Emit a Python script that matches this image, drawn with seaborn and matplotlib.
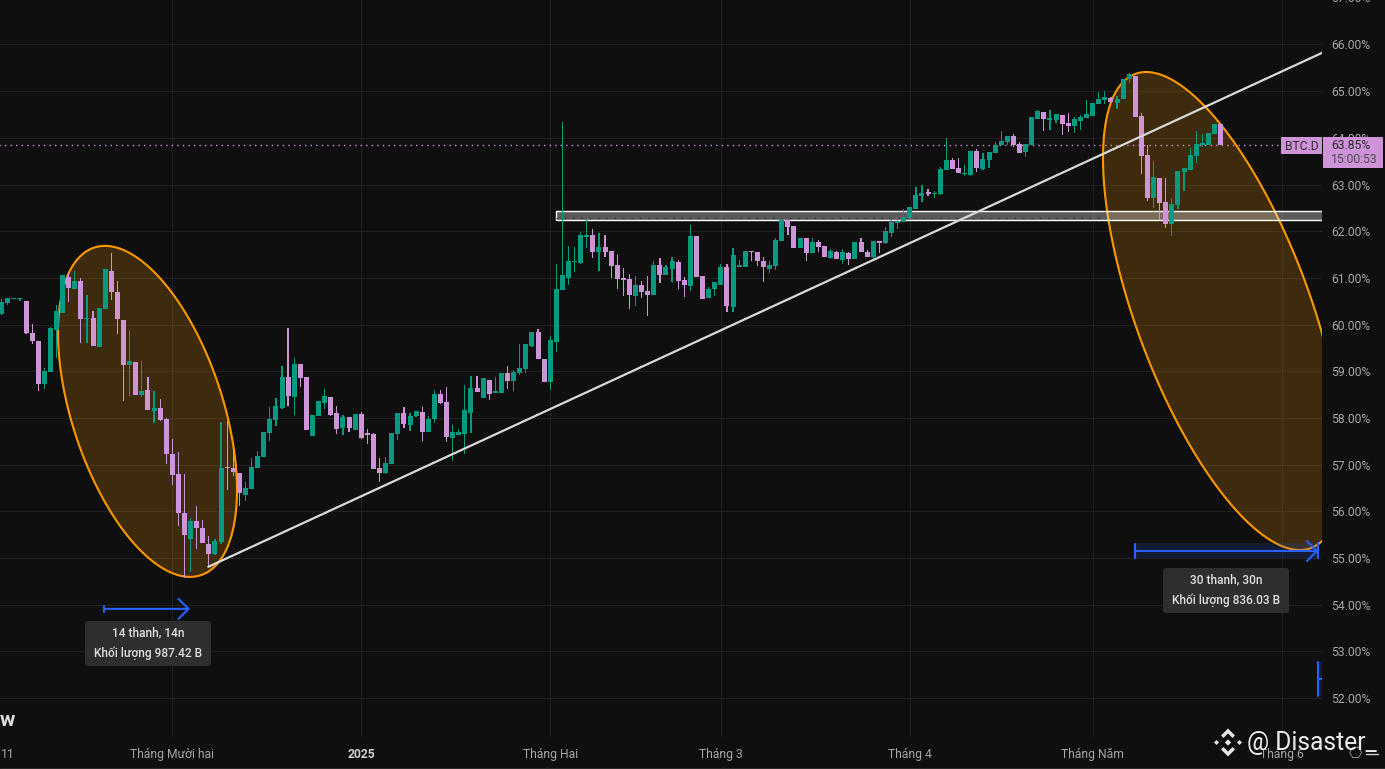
import numpy as np
import pandas as pd
import matplotlib
matplotlib.use("Agg")
import matplotlib.pyplot as plt
import seaborn as sns
from matplotlib.patches import FancyBboxPatch, Polygon, Rectangle
from matplotlib.transforms import Affine2D

# daily BTC.D candles, 3 Nov 2024 to 22 May 2025 (percent)
opens = [
    60.23, 60.46, 60.54, 60.54, 60.51, 59.82, 59.65, 58.73, 58.98, 59.88,
    60.25, 61.02, 60.76, 60.93, 60.12, 60.14, 59.52, 60.33, 61.15, 60.70,
    60.10, 59.13, 59.20, 58.49, 58.60, 58.15, 58.21, 57.98, 57.23, 56.80,
    55.96, 55.41, 55.79, 55.64, 55.30, 55.09, 55.34, 56.95, 56.93, 56.82,
    56.35, 56.47, 56.93, 57.16, 57.68, 57.96, 58.21, 58.88, 58.45, 59.16,
    58.88, 57.61, 58.04, 58.32, 58.45, 58.10, 57.78, 58.02, 57.74, 58.08,
    57.68, 57.66, 56.93, 56.82, 57.01, 57.66, 58.11, 57.85, 58.04, 58.13,
    57.70, 57.98, 58.51, 58.34, 57.57, 57.63, 57.66, 58.11, 58.64, 58.43,
    58.81, 58.53, 58.53, 58.96, 58.79, 58.96, 59.05, 59.54, 59.84, 59.26,
    58.77, 59.63, 60.74, 61.00, 61.33, 61.32, 61.88, 61.92, 61.56, 61.66,
    61.58, 61.28, 61.00, 60.98, 60.61, 60.85, 60.72, 60.63, 61.28, 61.06,
    61.19, 61.34, 60.96, 60.83, 61.90, 61.04, 60.57, 60.76, 60.85, 61.23,
    60.38, 61.23, 61.23, 61.58, 61.55, 61.36, 61.19, 61.25, 61.79, 62.24,
    62.11, 61.64, 61.85, 61.53, 61.77, 61.68, 61.43, 61.55, 61.38, 61.53,
    61.40, 61.77, 61.55, 61.45, 61.78, 61.75, 61.96, 62.18, 62.20, 62.28,
    62.48, 62.75, 62.83, 62.79, 62.80, 63.31, 63.53, 63.35, 63.22, 63.20,
    63.72, 63.33, 63.53, 63.68, 63.85, 63.91, 64.04, 63.87, 63.70, 63.85,
    64.40, 64.55, 64.39, 64.38, 64.49, 64.32, 64.25, 64.36, 64.43, 64.47,
    64.73, 64.81, 64.85, 64.75, 64.83, 65.26, 65.33, 64.47, 63.63, 62.71,
    63.14, 62.63, 62.16, 62.56, 63.27, 63.31, 63.61, 63.84, 63.85, 64.08,
    64.30,
]
closes = [
    60.48, 60.57, 60.57, 60.57, 59.82, 59.65, 58.73, 59.01, 59.93, 60.29,
    61.06, 60.78, 60.93, 60.12, 60.15, 59.54, 60.36, 61.19, 60.70, 60.12,
    59.13, 59.22, 58.49, 58.58, 58.17, 58.21, 57.96, 57.23, 56.78, 55.96,
    55.49, 55.79, 55.64, 55.32, 55.09, 55.36, 56.93, 56.92, 56.84, 56.39,
    56.50, 56.95, 57.18, 57.70, 57.98, 58.26, 58.88, 58.47, 59.16, 58.86,
    57.74, 58.06, 58.36, 58.47, 58.06, 57.76, 58.02, 57.78, 58.08, 57.57,
    57.63, 56.91, 56.82, 57.03, 57.68, 58.11, 57.87, 58.04, 58.15, 57.70,
    57.98, 58.51, 58.32, 57.59, 57.70, 57.70, 58.17, 58.64, 58.56, 58.86,
    58.51, 58.58, 58.96, 58.79, 58.98, 59.07, 59.58, 59.84, 59.26, 58.77,
    59.67, 60.76, 61.06, 61.36, 61.36, 61.92, 61.92, 61.56, 61.66, 61.56,
    61.26, 60.98, 60.96, 60.63, 60.85, 60.70, 60.63, 61.28, 61.06, 61.23,
    61.36, 60.93, 60.85, 61.90, 61.02, 60.55, 60.76, 60.91, 61.23, 60.40,
    61.49, 61.27, 61.58, 61.55, 61.36, 61.23, 61.27, 61.81, 62.24, 62.09,
    61.64, 61.86, 61.53, 61.77, 61.66, 61.45, 61.58, 61.40, 61.55, 61.40,
    61.77, 61.55, 61.45, 61.79, 61.75, 62.00, 62.20, 62.22, 62.30, 62.52,
    62.78, 62.82, 62.80, 62.82, 63.33, 63.52, 63.33, 63.25, 63.25, 63.72,
    63.35, 63.55, 63.70, 63.85, 63.93, 64.04, 63.85, 63.68, 63.87, 64.45,
    64.58, 64.40, 64.43, 64.51, 64.30, 64.25, 64.40, 64.45, 64.51, 64.75,
    64.83, 64.88, 64.77, 64.83, 65.26, 65.37, 64.45, 63.61, 62.71, 63.16,
    62.60, 62.16, 62.58, 63.29, 63.35, 63.63, 63.87, 63.89, 64.10, 64.30,
    63.85,
]
highs = [
    60.54, 60.57, 60.57, 60.57, 60.51, 60.01, 59.65, 59.07, 59.95, 60.42,
    61.06, 61.10, 61.15, 61.00, 60.63, 60.29, 60.36, 61.19, 61.53, 60.93,
    60.10, 59.88, 59.20, 59.22, 58.88, 58.58, 58.41, 58.00, 57.55, 57.27,
    56.80, 55.86, 56.11, 55.81, 55.47, 55.41, 57.91, 57.93, 57.40, 56.82,
    56.63, 57.14, 57.29, 57.70, 58.23, 58.43, 59.11, 59.93, 59.28, 59.16,
    58.88, 58.06, 58.36, 58.62, 58.45, 58.26, 58.06, 58.02, 58.08, 58.13,
    57.76, 57.68, 57.14, 57.16, 57.68, 58.11, 58.23, 58.11, 58.15, 58.23,
    58.04, 58.60, 58.60, 58.66, 57.85, 57.76, 58.71, 58.90, 58.90, 58.86,
    58.81, 58.88, 58.96, 59.11, 59.03, 59.58, 59.58, 59.84, 59.91, 59.26,
    59.75, 61.30, 64.34, 61.68, 61.66, 61.98, 62.24, 62.05, 61.96, 61.92,
    61.58, 61.49, 61.21, 61.08, 61.04, 60.93, 61.04, 61.36, 61.43, 61.28,
    61.45, 61.38, 61.02, 62.13, 61.90, 61.04, 60.80, 60.91, 61.30, 61.30,
    61.64, 61.38, 61.58, 61.58, 61.55, 61.45, 61.36, 61.85, 62.24, 62.24,
    62.11, 61.86, 61.86, 61.85, 61.81, 61.68, 61.62, 61.58, 61.62, 61.55,
    61.77, 61.85, 61.60, 61.79, 61.78, 62.09, 62.24, 62.30, 62.47, 62.52,
    62.95, 62.99, 62.90, 62.86, 63.37, 64.00, 63.57, 63.57, 63.42, 63.72,
    63.76, 63.68, 63.70, 63.91, 64.15, 64.04, 64.08, 63.91, 63.87, 64.45,
    64.60, 64.55, 64.60, 64.51, 64.49, 64.53, 64.45, 64.49, 64.81, 64.75,
    64.98, 65.00, 64.88, 64.90, 65.26, 65.39, 65.33, 64.53, 63.85, 63.50,
    63.14, 63.14, 62.71, 63.29, 63.35, 63.78, 64.15, 64.08, 64.10, 64.30,
    64.30,
]
lows = [
    60.21, 60.42, 60.54, 60.51, 59.80, 59.58, 58.58, 58.62, 58.98, 59.28,
    60.25, 60.48, 60.76, 59.61, 59.61, 59.54, 59.52, 60.33, 60.53, 59.80,
    58.36, 58.47, 58.49, 58.45, 58.17, 57.89, 57.93, 57.01, 56.56, 55.69,
    54.57, 54.70, 55.19, 55.32, 54.81, 55.06, 55.30, 56.46, 56.76, 56.11,
    56.22, 56.47, 56.93, 57.16, 57.51, 57.83, 58.19, 58.26, 58.06, 58.66,
    57.74, 57.61, 58.04, 58.19, 58.04, 57.66, 57.63, 57.70, 57.74, 57.55,
    57.44, 56.91, 56.63, 56.80, 57.01, 57.53, 57.78, 57.72, 58.02, 57.51,
    57.70, 57.89, 58.30, 57.49, 57.08, 57.63, 57.23, 57.68, 58.56, 58.43,
    58.38, 58.53, 58.53, 58.62, 58.58, 58.92, 58.96, 59.52, 59.26, 58.77,
    58.60, 59.41, 60.74, 60.85, 61.13, 61.30, 61.64, 61.43, 61.15, 61.45,
    61.00, 60.76, 60.61, 60.33, 60.40, 60.57, 60.18, 60.63, 60.89, 61.06,
    60.91, 60.76, 60.59, 60.72, 61.02, 60.55, 60.57, 60.61, 60.85, 60.27,
    60.27, 61.23, 61.23, 61.36, 61.25, 60.91, 61.10, 61.17, 61.79, 61.92,
    61.64, 61.64, 61.36, 61.53, 61.55, 61.45, 61.40, 61.40, 61.30, 61.28,
    61.40, 61.55, 61.45, 61.36, 61.53, 61.73, 61.88, 62.05, 62.20, 62.28,
    62.48, 62.63, 62.75, 62.71, 62.78, 63.31, 63.33, 63.25, 63.18, 63.18,
    63.27, 63.31, 63.35, 63.68, 63.85, 63.85, 63.80, 63.68, 63.59, 63.85,
    64.40, 64.15, 64.17, 64.32, 64.06, 64.13, 64.10, 64.17, 64.43, 64.47,
    64.73, 64.73, 64.77, 64.62, 64.83, 65.18, 64.45, 63.23, 62.65, 62.50,
    62.24, 62.07, 61.90, 62.48, 62.86, 63.31, 63.46, 63.80, 63.85, 64.08,
    63.85,
]
first_day = -28  # days from 1 Dec 2024

# chart furniture
y_ticks = list(range(52, 67))
month_days = [0, 31, 62, 90, 121, 151, 182]
month_labels = ["Tháng Mười hai", "2025", "Tháng Hai", "Tháng 3", "Tháng 4", "Tháng Năm", "Tháng 6"]
last_price = 63.85
trend_days = [5.9, 188.63]
trend_vals = [54.81, 65.82]
band_start, band_low, band_high = 63.0, 62.24, 62.43

BG = "#0f0f0f"
GRID = "#202020"
UP = "#089981"
DOWN = "#ce93d8"
ORANGE = "#ff9800"
BLUE = "#2962ff"
AXIS_TXT = "#a6a6a6"

sns.set_theme(style="dark", rc={
    "figure.facecolor": BG, "axes.facecolor": BG, "savefig.facecolor": BG,
    "axes.edgecolor": BG, "axes.linewidth": 0,
})
plt.rcParams["font.family"] = ["Roboto", "DejaVu Sans"]

W, H = 1385, 769
fig = plt.figure(figsize=(W / 100, H / 100), dpi=100)
ax = fig.add_axes([0, (H - 737) / H, 1322 / W, 737 / H])
px = Affine2D().scale(1, -1).translate(0, H)  # figure pixels, y going down

df = pd.DataFrame({"open": opens, "close": closes, "high": highs, "low": lows})
df["day"] = first_day + df.index
df["top"] = df[["open", "close"]].max(axis=1)
df["bottom"] = df[["open", "close"]].min(axis=1)
df["up"] = df["close"] >= df["open"]


def draw_bars(sub, top, bottom, width, color):
    plot_df = pd.DataFrame({"day": sub["day"].values, "size": (sub[top] - sub[bottom]).values})
    sns.barplot(data=plot_df, x="day", y="size", bottom=sub[bottom].values, color=color,
                saturation=1, native_scale=True, width=width, errorbar=None,
                linewidth=0, zorder=4, ax=ax)


for is_up, color in [(True, UP), (False, DOWN)]:
    sub = df[df["up"] == is_up]
    draw_bars(sub, "high", "low", 0.2, color)
    draw_bars(sub, "top", "bottom", 0.82, color)

ax.set_xlim(-28.27, 188.63)
ax.set_ylim(51.165, 66.953)
ax.set_xlabel("")
ax.set_ylabel("")

ax.set_xticks(month_days, month_labels)
ax.set_yticks(y_ticks, [f"{v:.2f}%" for v in y_ticks])
ax.yaxis.tick_right()
ax.grid(True, color=GRID, linewidth=0.72, zorder=0)
ax.set_axisbelow(True)
ax.tick_params(axis="y", length=0, pad=6.6, labelsize=8.7, labelcolor=AXIS_TXT)
ax.tick_params(axis="x", length=0, pad=8, labelsize=8.7, labelcolor=AXIS_TXT)
ax.get_xticklabels()[1].set_fontweight("bold")
ax.get_xticklabels()[1].set_color("#cfcfcf")
ax.text(1331.5, -2, "67.00%", transform=px, color=AXIS_TXT, fontsize=8.7, va="center", clip_on=False)
ax.text(1, 754, "11", transform=px, color=AXIS_TXT, fontsize=8.7, va="center", clip_on=False)
ax.plot([0, W], [767.5, 767.5], transform=px, color="#2a2a2a", lw=0.72, clip_on=False)


def ellipse(cx, cy, half_x, half_y, rho):
    # rotated ellipse on the price scale
    t = np.linspace(0, 2 * np.pi, 400)
    xs = cx + half_x * np.cos(t)
    ys = cy + half_y * np.cos(t - np.arccos(rho))
    ax.add_patch(Polygon(np.column_stack([xs, ys]), closed=True, facecolor=ORANGE + "33",
                         edgecolor=ORANGE, linewidth=1.5, zorder=2))


ellipse(-4.07, 58.14, 14.68, 3.545, -0.475)
ellipse(172.39, 60.29, 19.69, 5.12, -0.64)

# last price line, support band, trend line
ax.plot([-29, 182.5], [last_price, last_price], color=DOWN, lw=1, dashes=(1, 3), zorder=3)
ax.add_patch(Rectangle((band_start, band_low), 130, band_high - band_low, facecolor="#ffffff50",
                       edgecolor="#ffffff", linewidth=1.0, zorder=3))
ax.plot([band_start, 153], [62.28, 62.28], color="#363636", lw=1, dashes=(1, 5), zorder=3.5)
sns.lineplot(x=trend_days, y=trend_vals, color="#d9d9d9", linewidth=1.6, zorder=6, ax=ax, errorbar=None)


def ruler(d0, d1, level, cap):
    ax.annotate("", xy=(d1, level), xytext=(d0, level), zorder=7,
                arrowprops=dict(arrowstyle="->,head_length=0.6,head_width=0.6", color=BLUE, lw=1.5,
                                shrinkA=0, shrinkB=0, mutation_scale=12))
    ax.plot([d0, d0], [level - cap, level + cap], color=BLUE, lw=1.5, zorder=7)


ruler(-11.2, 2.9, 53.91, 0.06)
ax.add_patch(Rectangle((158, 55.0), 30.05, 0.32, facecolor=BLUE + "26", edgecolor="none", zorder=6))
ruler(158, 188.05, 55.15, 0.16)
ax.plot([188.05, 188.05], [54.99, 55.32], color=BLUE, lw=1.5, zorder=7)
ax.add_patch(Rectangle((188.05, 52.05), 1, 0.72, facecolor=BLUE + "26", edgecolor="none", zorder=6))
ax.plot([188.05, 188.05], [52.05, 52.77], color=BLUE, lw=1.5, zorder=7)
ax.plot([188.05, 189], [52.41, 52.41], color=BLUE, lw=1.5, zorder=7)


def info_box(x0, y0, line1, line2):
    ax.add_patch(FancyBboxPatch((x0 + 3, y0 + 3), 120, 39, boxstyle="round,pad=3,rounding_size=3",
                                transform=px, facecolor="#2e2e2e", edgecolor="none",
                                clip_on=False, zorder=8))
    ax.text(x0 + 63, y0 + 12, line1, transform=px, color="#e0e0e0", fontsize=8.6, fontweight="medium",
            ha="center", va="center", zorder=9)
    ax.text(x0 + 63, y0 + 32, line2, transform=px, color="#e0e0e0", fontsize=8.6, fontweight="medium",
            ha="center", va="center", zorder=9)


info_box(85, 621, "14 thanh, 14n", "Khối lượng 987.42 B")
info_box(1163, 568, "30 thanh, 30n", "Khối lượng 836.03 B")

# price tags on the axis
ax.add_patch(Rectangle((1281, 137), 41, 17, transform=px, facecolor=DOWN, edgecolor="none",
                       clip_on=False, zorder=10))
ax.add_patch(Rectangle((1323, 137), 60, 31, transform=px, facecolor=DOWN, edgecolor="none",
                       clip_on=False, zorder=10))
ax.text(1301.5, 146, "BTC.D", transform=px, color="#2b2b2b", fontsize=8.7, ha="center", va="center",
        clip_on=False, zorder=11)
ax.text(1331, 145.5, "63.85%", transform=px, color="#2b2b2b", fontsize=8.7, va="center", clip_on=False, zorder=11)
ax.text(1331, 159.5, "15:00:53", transform=px, color="#4a4a4a", fontsize=8.7, va="center", clip_on=False, zorder=11)

# corner marks
ax.text(0, 720, "w", transform=px, color="#dddddd", fontsize=15, fontweight="bold", va="center", zorder=9)
ax.text(1355, 754, "⎔", transform=px, color="#9a9a9a", fontsize=11, ha="center", va="center",
        family=["DejaVu Sans"], clip_on=False)
ax.plot([1366, 1378], [754, 754], transform=px, color="#d0d0d0", lw=1, clip_on=False)

# watermark
logo_x, logo_y = 1228, 742.5
top_chevron = [(0, -14), (7, -7), (4.5, -4.5), (0, -9), (-4.5, -4.5), (-7, -7)]
bottom_chevron = [(x, -y) for x, y in top_chevron]
diamonds = [[(-14, 0), (-11.5, -2.5), (-9, 0), (-11.5, 2.5)],
            [(14, 0), (11.5, -2.5), (9, 0), (11.5, 2.5)],
            [(0, -3.2), (3.2, 0), (0, 3.2), (-3.2, 0)]]
for shape in [top_chevron, bottom_chevron] + diamonds:
    pts = [(logo_x + x, logo_y + y) for x, y in shape]
    ax.add_patch(Polygon(pts, closed=True, transform=px, facecolor="#e4e4e4", edgecolor="none",
                         clip_on=False, zorder=12))
ax.text(1247, 743, "@ Disaster_", transform=px, color="#ececec", fontsize=17.7, va="center",
        clip_on=False, zorder=12)

fig.savefig("out.png", dpi=100)
